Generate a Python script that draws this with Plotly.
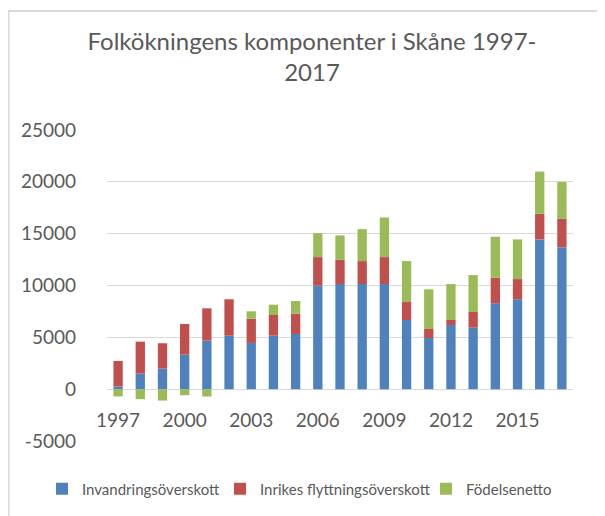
import plotly.graph_objects as go

years = list(range(1997, 2018))
invandring = [250, 1500, 1985, 3330, 4680, 5160, 4460, 5160, 5325, 9980, 10140,
              10140, 10140, 6670, 4940, 6190, 5930, 8280, 8670, 14445, 13700]
inrikes = [2475, 3085, 2445, 2960, 3120, 3510, 2340, 1995, 1955, 2760, 2340,
           2215, 2600, 1735, 865, 480, 1515, 2470, 1950, 2465, 2730]
fodelse = [-700, -965, -1100, -580, -710, 0, 710, 995, 1220, 2310, 2350,
           3085, 3820, 3950, 3825, 3470, 3560, 3950, 3825, 4080, 3560]
series_names = ["Invandringsöverskott", "Inrikes flyttningsöverskott", "Födelsenetto"]
colors = ["#4F81BD", "#C0504D", "#9BBB59"]
x_tickvals = [1997, 2000, 2003, 2006, 2009, 2012, 2015]
y_tickvals = [-5000, 0, 5000, 10000, 15000, 20000, 25000]
y_ticktext = ["-5000", "0", "5000", "10000", "15000", "20000", "25000"]

# page body has an 8px margin, so the figure is drawn 8px in from the window edge
W, H = 597, 508
L, R, T, B = 99, 32, 122, 75
pw, ph = W - L - R, H - T - B

legend_ids = ["legend", "legend2", "legend3"]
legend_x_px = [34, 212, 418]   # figure px of each legend box (left)
legend_y_px = 481

fig = go.Figure()
for name, vals, col, lid in zip(series_names, [invandring, inrikes, fodelse], colors, legend_ids):
    fig.add_trace(go.Bar(x=years, y=vals, name=name, legend=lid,
                         marker=dict(color=col, line=dict(width=0))))

ymin, ymax = -5000, 25000
zero_pos = (0 - ymin) / (ymax - ymin)

grey = "#595959"

def legend_cfg(xpx):
    return dict(orientation="h", x=(xpx - L) / pw, xref="paper", xanchor="left",
                y=-(legend_y_px - (T + ph)) / ph, yref="paper", yanchor="middle",
                font=dict(size=15, color=grey), itemwidth=30, bgcolor="rgba(0,0,0,0)")

fig.update_layout(
    width=W, height=H,
    margin=dict(l=L, r=R, t=T, b=B, pad=0, autoexpand=False),
    barmode="relative",
    bargap=0.58,
    paper_bgcolor="white", plot_bgcolor="white",
    font=dict(family="Lato", color=grey),
    title=dict(text="Folkökningens komponenter i Skåne 1997-<br>2017",
               x=304 / W, xref="container", xanchor="center",
               y=1 - 42 / H, yref="container", yanchor="top",
               font=dict(family="Lato", size=24, color=grey)),
    xaxis=dict(range=[1996.5, 2017.5], tickmode="array", tickvals=x_tickvals,
               ticktext=[str(v) for v in x_tickvals], showgrid=False,
               anchor="free", position=zero_pos, showline=False, ticks="",
               ticklabelstandoff=18, tickfont=dict(size=19, color=grey), zeroline=False),
    yaxis=dict(range=[ymin, ymax], tickmode="array", tickvals=y_tickvals,
               ticktext=y_ticktext,
               showgrid=True, gridcolor="#d9d9d9", gridwidth=1,
               zeroline=True, zerolinecolor="#d9d9d9", zerolinewidth=1,
               ticks="", ticklabelstandoff=30, tickfont=dict(size=19, color=grey)),
    legend=legend_cfg(legend_x_px[0]),
    legend2=legend_cfg(legend_x_px[1]),
    legend3=legend_cfg(legend_x_px[2]),
    showlegend=True,
)

# chart frame border (extends past the visible area right/bottom)
fig.add_shape(type="rect", xref="paper", yref="paper",
              x0=(0.5 - L) / pw, x1=(W + 20 - L) / pw,
              y0=-(H + 20 - T - ph) / ph, y1=(H - 3 - B) / ph,
              line=dict(color="#d9d9d9", width=2), fillcolor="rgba(0,0,0,0)", layer="below")

fig.write_html("out.html")
